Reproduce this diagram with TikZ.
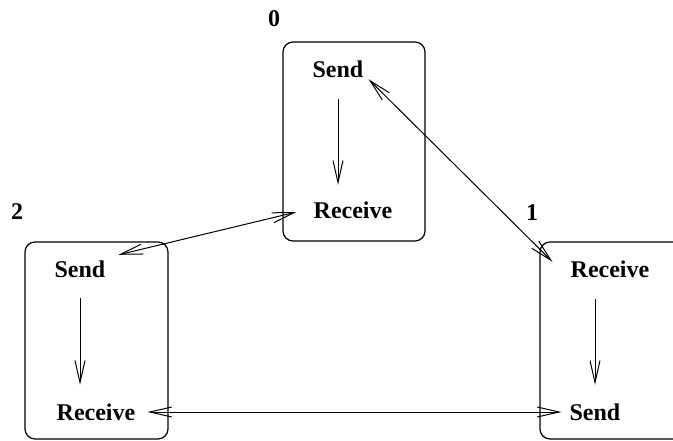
\documentclass[tikz,border=0pt]{standalone}
\usepackage{fontspec}
\setmainfont{Liberation Serif}
\usetikzlibrary{arrows.meta}

\begin{document}
\begin{tikzpicture}[x=1pt, y=1pt, >={Straight Barb[length=22pt,width=10pt]},
  proc/.style={line width=1.2pt, rounded corners=10pt},
  lbl/.style={font=\fontsize{24}{28}\selectfont\bfseries, inner sep=2pt, text height=16pt, text depth=0pt},
  num/.style={font=\fontsize{24}{28}\selectfont\bfseries, inner sep=0pt},
  flow/.style={->, line width=1pt},
  msg/.style={<->, line width=1pt}]
  \useasboundingbox (0,0) rectangle (673,440);
  \clip (0,0) rectangle (673,440);

  % Process 0
  \draw[proc] (283,398) rectangle (425,199);
  \node[num] (n0) at (274,421) {0};
  \node[lbl] (s0) at (338,370) {Send};
  \node[lbl] (r0) at (353,229) {Receive};
  \draw[flow, shorten <=19pt, shorten >=16pt] (s0.south) -- (s0.south |- r0.north);

  % Process 2
  \draw[proc] (25,198) rectangle (168,1);
  \node[num] (n2) at (17,228) {2};
  \node[lbl] (s2) at (80,171) {Send};
  \node[lbl] (r2) at (96,28) {Receive};
  \draw[flow, shorten <=19pt, shorten >=17pt] (s2.south) -- (s2.south |- r2.north);

  % Process 1
  \draw[proc] (540,198) rectangle (700,1);
  \node[num] (n1) at (532,227) {1};
  \node[lbl] (r1) at (610,170) {Receive};
  \node[lbl] (s1) at (595,28) {Send};
  \draw[flow, shorten <=19pt, shorten >=17pt] (s1.north |- r1.south) -- (s1.north);

  % Messages
  \draw[msg] ([shift={(3pt,1pt)}]s0.south east) -- ([shift={(-16pt,-2pt)}]r1.north west);
  \draw[msg] ([shift={(-15pt,-1pt)}]r0.west) -- ([shift={(11pt,4pt)}]s2.north east);
  \draw[msg] ([xshift=10pt]r2.east) -- ([xshift=-6pt]s1.west);
\end{tikzpicture}
\end{document}
